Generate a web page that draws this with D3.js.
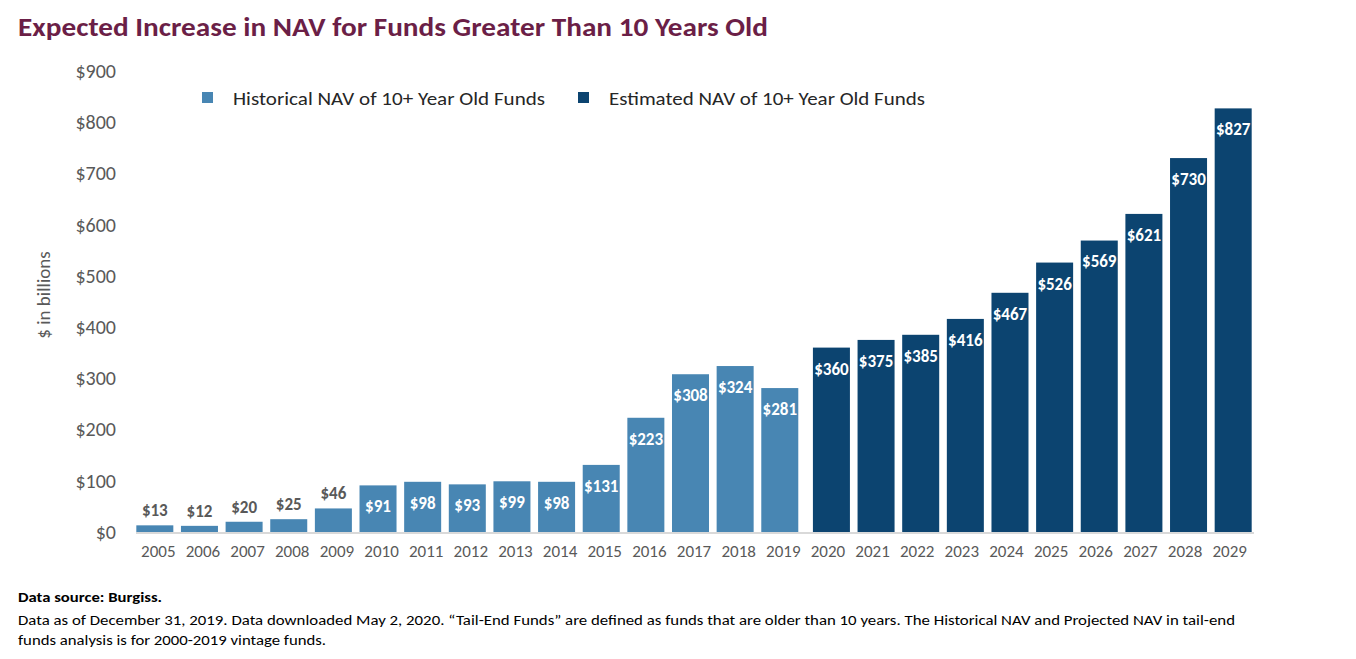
<!DOCTYPE html>
<html>
<head>
<meta charset="utf-8">
<script src="https://cdn.jsdelivr.net/npm/d3@7"></script>
<style>
  body { margin: 0; background: #fff; }
  svg text { font-family: Carlito, Lato, "Open Sans", sans-serif; }
</style>
</head>
<body>
<div id="chart"></div>
<script>
(function(d3) {
  'use strict';

  // data ($ billions)
  var histYears = ['2005', '2006', '2007', '2008', '2009', '2010', '2011', '2012',
                   '2013', '2014', '2015', '2016', '2017', '2018', '2019'];
  var histValues = [13, 12, 20, 25, 46, 91, 98, 93, 99, 98, 131, 223, 308, 324, 281];
  var estYears = ['2020', '2021', '2022', '2023', '2024', '2025', '2026', '2027', '2028', '2029'];
  var estValues = [360, 375, 385, 416, 467, 526, 569, 621, 730, 827];
  var yTicks = [0, 100, 200, 300, 400, 500, 600, 700, 800, 900];
  var seriesNames = ['Historical NAV of 10+ Year Old Funds', 'Estimated NAV of 10+ Year Old Funds'];

  var width = 1356;
  var height = 659;
  var histColor = '#4886b3';
  var estColor = '#0c4470';
  var grey = '#595959';
  var insideMin = 50;      // below this the label goes above the bar

  var rows = histYears.map(function(y, i) {
    return { year: y, value: histValues[i], series: 0 };
  }).concat(estYears.map(function(y, i) {
    return { year: y, value: estValues[i], series: 1 };
  }));
  var years = histYears.concat(estYears);

  var svg = d3.select('#chart')
    .append('svg')
    .attr('width', width)
    .attr('height', height);

  var x = d3.scaleBand()
    .domain(years)
    .range([136, 1252])
    .paddingInner(0.171)
    .paddingOuter(0.0855);

  var y = d3.scaleLinear()
    .domain([0, 900])
    .range([532, 71]);

  // two series side by side in excel, so each bar sits a little off centre
  var shift = [-3.5, 3.5];

  function fit(sel, w) {
    sel.attr('textLength', w).attr('lengthAdjust', 'spacingAndGlyphs');
  }

  // title
  svg.append('text')
    .attr('x', 18)
    .attr('y', 36)
    .attr('fill', '#6b1f47')
    .attr('font-size', 26)
    .attr('font-weight', 'bold')
    .text('Expected Increase in NAV for Funds Greater Than 10 Years Old')
    .call(fit, 750);

  // y axis
  var yAxis = svg.append('g')
    .attr('transform', 'translate(116,0)')
    .call(d3.axisLeft(y).tickValues(yTicks).tickSize(0).tickPadding(0)
      .tickFormat(function(d) { return '$' + d; }));
  yAxis.select('.domain').remove();
  yAxis.selectAll('text')
    .attr('fill', grey)
    .attr('font-size', 20)
    .attr('font-family', 'Carlito, Lato, sans-serif');

  svg.append('text')
    .attr('transform', 'translate(50,295) rotate(-90)')
    .attr('text-anchor', 'middle')
    .attr('fill', grey)
    .attr('font-size', 19)
    .text('$ in billions');

  // bars
  svg.selectAll('rect.bar')
    .data(rows)
    .enter()
    .append('rect')
    .attr('class', 'bar')
    .attr('x', function(d) { return x(d.year) + shift[d.series]; })
    .attr('y', function(d) { return y(d.value); })
    .attr('width', x.bandwidth())
    .attr('height', function(d) { return y(0) - y(d.value); })
    .attr('fill', function(d) { return d.series ? estColor : histColor; });

  // baseline
  svg.append('line')
    .attr('x1', 136)
    .attr('x2', 1254)
    .attr('y1', y(0) + 1)
    .attr('y2', y(0) + 1)
    .attr('stroke', '#d9d9d9')
    .attr('stroke-width', 2);

  // value labels
  svg.selectAll('text.val')
    .data(rows)
    .enter()
    .append('text')
    .attr('class', 'val')
    .attr('x', function(d) { return x(d.year) + shift[d.series] + x.bandwidth() / 2; })
    .attr('y', function(d) {
      return d.value < insideMin ? y(d.value) - 15 : y(d.value) + 21;
    })
    .attr('dy', '0.35em')
    .attr('text-anchor', 'middle')
    .attr('font-size', 17)
    .attr('font-weight', 'bold')
    .attr('fill', function(d) { return d.value < insideMin ? grey : '#fff'; })
    .text(function(d) { return '$' + d.value; });

  // x axis
  var xAxis = svg.append('g')
    .attr('transform', 'translate(0,' + (y(0) + 10) + ')')
    .call(d3.axisBottom(x).tickSize(0).tickPadding(0));
  xAxis.select('.domain').remove();
  xAxis.selectAll('text')
    .attr('fill', grey)
    .attr('font-size', 17)
    .attr('font-family', 'Carlito, Lato, sans-serif')
    .attr('dy', '0.9em');

  // legend
  var legendX = [202, 578];
  var legendW = [312, 316];
  var legend = svg.selectAll('.legend')
    .data(seriesNames)
    .enter()
    .append('g')
    .attr('class', 'legend')
    .attr('transform', function(d, i) { return 'translate(' + legendX[i] + ',92)'; });

  legend.append('rect')
    .attr('width', 11)
    .attr('height', 11)
    .attr('fill', function(d, i) { return i ? estColor : histColor; });

  legend.append('text')
    .attr('x', 31)
    .attr('y', 6)
    .attr('dy', '0.35em')
    .attr('font-size', 19)
    .attr('fill', '#262626')
    .text(function(d) { return d; })
    .each(function(d, i) { d3.select(this).call(fit, legendW[i]); });

  // footer
  svg.append('text')
    .attr('x', 18)
    .attr('y', 602)
    .attr('font-size', 14.5)
    .attr('font-weight', 'bold')
    .attr('fill', '#000')
    .text('Data source: Burgiss.')
    .call(fit, 144);

  svg.append('text')
    .attr('x', 18)
    .attr('y', 625)
    .attr('font-size', 14.5)
    .attr('fill', '#000')
    .text('Data as of December 31, 2019. Data downloaded May 2, 2020. \u201cTail-End Funds\u201d are defined as funds that are older than 10 years. The Historical NAV and Projected NAV in tail-end')
    .call(fit, 1217);

  svg.append('text')
    .attr('x', 18)
    .attr('y', 645)
    .attr('font-size', 14.5)
    .attr('fill', '#000')
    .text('funds analysis is for 2000-2019 vintage funds.')
    .call(fit, 308);

})(window.d3);
</script>
</body>
</html>
